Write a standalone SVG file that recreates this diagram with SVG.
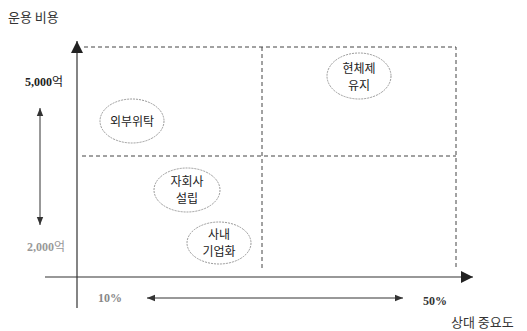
<svg xmlns="http://www.w3.org/2000/svg" width="527" height="331" viewBox="0 0 527 331">
<defs>
<marker id="big" viewBox="0 0 10 10" refX="10" refY="5" markerWidth="12" markerHeight="12" markerUnits="userSpaceOnUse" orient="auto">
<path d="M0,0 L10,5 L0,10 z" fill="#222"/>
</marker>
<marker id="sm" viewBox="0 0 10 10" refX="10" refY="5" markerWidth="8" markerHeight="8" markerUnits="userSpaceOnUse" orient="auto-start-reverse">
<path d="M0,1 L10,5 L0,9 z" fill="#333"/>
</marker>
</defs>
<style>
.lbl{font-family:"Noto Sans CJK KR","Noto Sans",sans-serif;font-size:12px;fill:#222;text-anchor:middle}
.ax{font-family:"Noto Sans CJK KR","Noto Sans",sans-serif;font-size:13px;fill:#333}
.num{font-family:"Liberation Serif","Noto Sans CJK KR",serif;font-size:12px;font-weight:bold}
.won{font-family:"Noto Sans CJK KR",sans-serif;font-weight:normal}
.ell{fill:#fff;stroke:#999;stroke-width:1;stroke-dasharray:2 1}
.dash{fill:none;stroke:#444;stroke-width:1;stroke-dasharray:4 3}
.axis{stroke:#333;stroke-width:1.2;fill:none}
</style>
<rect width="527" height="331" fill="#fff"/>
<g id="connectors">
<path class="dash" d="M84,47 H456 V270"/>
<path class="dash" d="M82,156 H456"/>
<path class="dash" d="M262,47 V270"/>
<path class="axis" d="M77,308 V41" marker-end="url(#big)"/>
<path class="axis" d="M45,277 H473" marker-end="url(#big)"/>
<path d="M40,108 V225" stroke="#333" stroke-width="1" fill="none" marker-start="url(#sm)" marker-end="url(#sm)"/>
<path d="M147,298 H403" stroke="#333" stroke-width="1" fill="none" marker-start="url(#sm)" marker-end="url(#sm)"/>
</g>
<g id="labels">
<text class="ax" x="8" y="22">운용 비용</text>
<text class="num" x="25" y="86" fill="#222">5,000<tspan class="won">억</tspan></text>
<text class="num" x="27" y="251" fill="#999">2,000<tspan class="won">억</tspan></text>
<text class="num" x="98" y="302" fill="#888">10%</text>
<text class="num" x="423" y="305" fill="#333">50%</text>
<text class="ax" x="451" y="327">상대 중요도</text>
</g>
<g id="node-outsourcing">
<ellipse class="ell" cx="132" cy="121" rx="32" ry="22"/>
<text class="lbl" x="132" y="126">외부위탁</text>
</g>
<g id="node-subsidiary">
<ellipse class="ell" cx="187" cy="190" rx="33" ry="22"/>
<text class="lbl" x="187" y="186">자회사</text>
<text class="lbl" x="187" y="203">설립</text>
</g>
<g id="node-inhouse">
<ellipse class="ell" cx="219" cy="243" rx="32" ry="21"/>
<text class="lbl" x="219" y="239">사내</text>
<text class="lbl" x="219" y="256">기업화</text>
</g>
<g id="node-current">
<ellipse class="ell" cx="359" cy="76" rx="32" ry="23"/>
<text class="lbl" x="359" y="73">현체제</text>
<text class="lbl" x="359" y="90">유지</text>
</g>
</svg>
